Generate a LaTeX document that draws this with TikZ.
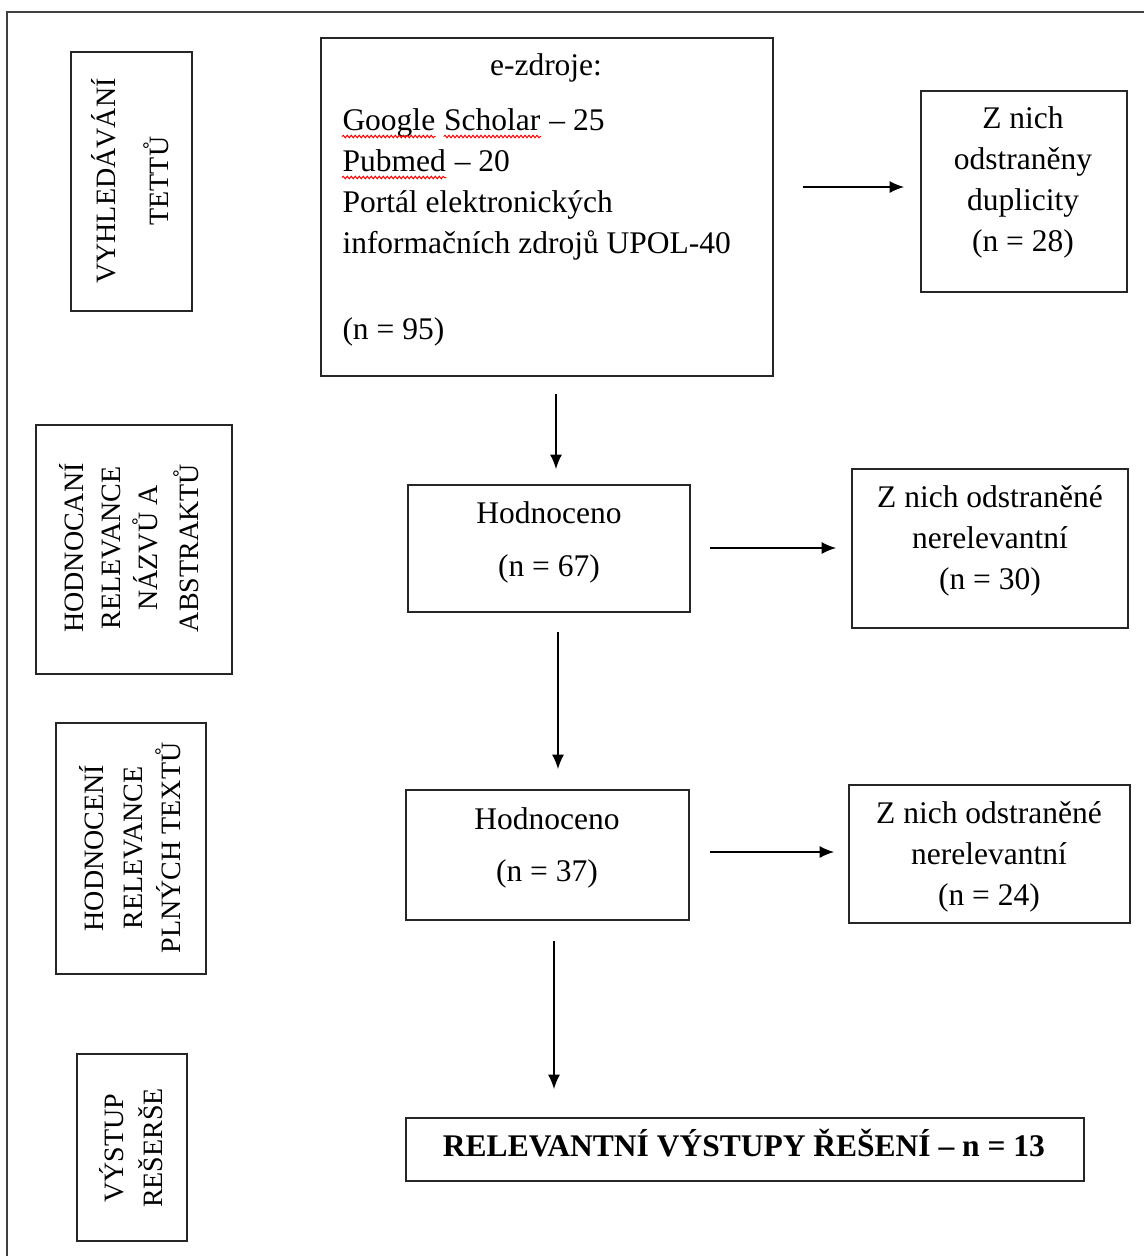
\documentclass[tikz,border=0pt]{standalone}
\usepackage{fontspec}
\setmainfont{Liberation Serif}
\usetikzlibrary{arrows.meta,fit,decorations.pathmorphing}
\begin{document}
\begin{tikzpicture}[x=0.4pt,y=-0.4pt,
 bx/.style={draw=black!85, line width=0.7pt, inner sep=0pt},
 t/.style={inner sep=0pt, anchor=base, font=\fontsize{12.6}{14}\selectfont},
 tl/.style={t, anchor=base west},
 vt/.style={inner sep=0pt, anchor=base, rotate=90, font=\fontsize{11.2}{13}\selectfont},
 arr/.style={-{Latex[length=5.8pt,width=4.8pt]}, line width=0.6pt},
 frame/.style={draw=black!75, line width=0.8pt},
 wave/.style={draw=red, line width=0.4pt, decorate, decoration={snake, amplitude=0.5pt, segment length=1.6pt}}]
\useasboundingbox (0,0) rectangle (1144,1256);
\clip (0,0) rectangle (1144,1256);
\draw[frame] (7,12) rectangle (1180,1290);

% boxes
\node[bx, fit={(71,52) (192,311)}] (l1) {};
\node[bx, fit={(36,425) (232,674)}] (l2) {};
\node[bx, fit={(56,723) (206,974)}] (l3) {};
\node[bx, fit={(77,1054) (187,1241)}] (l4) {};
\node[bx, fit={(321,38) (773,376)}] (top) {};
\node[bx, fit={(921,91) (1127,292)}] (r1) {};
\node[bx, fit={(408,485) (690,612)}] (h1) {};
\node[bx, fit={(852,469) (1128,628)}] (r2) {};
\node[bx, fit={(406,790) (689,920)}] (h2) {};
\node[bx, fit={(849,785) (1130,923)}] (r3) {};
\node[bx, fit={(406,1118) (1084,1181)}] (bot) {};

% left labels
\node[vt] (l1a) at (115,181) {VYHLEDÁVÁNÍ};
\node[vt] (l1b) at (168,181) {TETTŮ};
\node[vt] (l2a) at (83,548) {HODNOCANÍ};
\node[vt] (l2b) at (120,548) {RELEVANCE};
\node[vt] (l2c) at (157,548) {NÁZVŮ A};
\node[vt] (l2d) at (198,548) {ABSTRAKTŮ};
\node[vt] (l3a) at (103,848) {HODNOCENÍ};
\node[vt] (l3b) at (142,848) {RELEVANCE};
\node[vt] (l3c) at (180,848) {PLNÝCH TEXTŮ};
\node[vt] (l4a) at (123,1148) {VÝSTUP};
\node[vt] (l4b) at (162,1148) {REŠERŠE};

% top box text
\node[t] (ez) at (546,75) {e-zdroje:};
\node[tl] (gs1) at (342,130) {Google};
\node[tl] (gs2) at ([xshift=3.2pt]gs1.base east) {Scholar};
\node[tl] (gs3) at ([xshift=3.2pt]gs2.base east) {– 25};
\node[tl] (pm1) at (342,171) {Pubmed};
\node[tl] (pm2) at ([xshift=3.2pt]pm1.base east) {– 20};
\node[tl] (po) at (342,212) {Portál elektronických};
\node[tl] (inf) at (342,253) {informačních zdrojů UPOL-40};
\node[tl] (n95) at (342,339) {(n = 95)};
\draw[wave] ([yshift=-2.6pt]gs1.base west) -- ([yshift=-2.6pt]gs1.base east);
\draw[wave] ([yshift=-2.6pt]gs2.base west) -- ([yshift=-2.6pt]gs2.base east);
\draw[wave] ([yshift=-2.6pt]pm1.base west) -- ([yshift=-2.6pt]pm1.base east);

% right box 1
\node[t] (r1a) at (1023,128) {Z nich};
\node[t] (r1b) at (1023,169) {odstraněny};
\node[t] (r1c) at (1023,210) {duplicity};
\node[t] (r1d) at (1023,251) {(n = 28)};

% hodnoceno 1
\node[t] (h1a) at (549,523) {Hodnoceno};
\node[t] (h1b) at (549,576) {(n = 67)};

% right box 2
\node[t] (r2a) at (990,507) {Z nich odstraněné};
\node[t] (r2b) at (990,548) {nerelevantní};
\node[t] (r2c) at (990,589) {(n = 30)};

% hodnoceno 2
\node[t] (h2a) at (547,829) {Hodnoceno};
\node[t] (h2b) at (547,881) {(n = 37)};

% right box 3
\node[t] (r3a) at (989,823) {Z nich odstraněné};
\node[t] (r3b) at (989,864) {nerelevantní};
\node[t] (r3c) at (989,905) {(n = 24)};

% bottom
\node[t] (bt) at (744,1156) {\textbf{RELEVANTNÍ VÝSTUPY ŘEŠENÍ – n = 13}};

% arrows
\draw[arr, shorten <=11.6pt, shorten >=6.4pt] (top.east |- 0,187) -- (r1.west |- 0,187);
\draw[arr, shorten <=6.8pt, shorten >=6pt] (top.south -| 556,0) -- (h1.north -| 556,0);
\draw[arr, shorten <=7.6pt, shorten >=6pt] (h1.east |- 0,548) -- (r2.west |- 0,548);
\draw[arr, shorten <=7.6pt, shorten >=8pt] (h1.south -| 558,0) -- (h2.north -| 558,0);
\draw[arr, shorten <=8pt, shorten >=5.6pt] (h2.east |- 0,852) -- (r3.west |- 0,852);
\draw[arr, shorten <=8pt, shorten >=11.2pt] (h2.south -| 554,0) -- (bot.north -| 554,0);
\end{tikzpicture}
\end{document}
